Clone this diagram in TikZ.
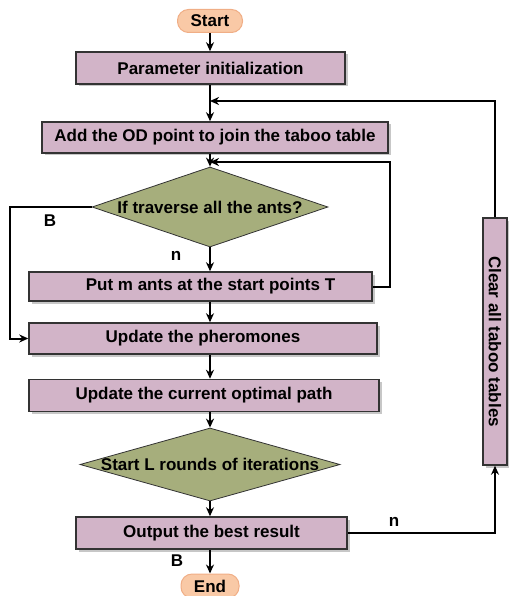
\documentclass[tikz,border=0pt]{standalone}
\usepackage{fontspec}
\setmainfont{Liberation Sans}
\usetikzlibrary{shapes.geometric,arrows.meta,shadows}
\definecolor{boxfill}{HTML}{D2B4C8}
\definecolor{dfill}{HTML}{A6AE7C}
\definecolor{tfill}{HTML}{F9C9A6}
\definecolor{tline}{HTML}{F0AE86}
\definecolor{edge}{HTML}{333333}
\tikzset{
  x=1pt,y=1pt,
  txt/.style={font=\fontsize{17}{19}\selectfont\bfseries, text=black},
  every node/.style={txt},
  procbox/.style={rectangle, draw=edge, line width=1.5pt, fill=boxfill, inner sep=0pt,
    drop shadow={shadow xshift=2.5pt, shadow yshift=-2.5pt, fill=black, opacity=0.22}},
  decbox/.style={diamond, draw=edge, line width=0.8pt, fill=dfill, inner sep=0pt},
  termbox/.style={rectangle, rounded corners=11pt, draw=tline, line width=1pt, fill=tfill, inner sep=0pt},
  conn/.style={draw=black, line width=2pt},
  arr/.style={conn, -{Stealth[length=9pt,width=8pt]}},
  lbl/.style={inner sep=0pt}
}
\begin{document}
\begin{tikzpicture}
\useasboundingbox (0,0) rectangle (508,-596);
\node[termbox, minimum width=65, minimum height=23] (start) at (210,-21) {Start};
\node[procbox, minimum width=269, minimum height=32] (param) at (210.5,-68) {Parameter initialization};
\node[procbox, minimum width=346, minimum height=31] (add) at (215,-137.5) {Add the OD point to join the taboo table};
\node[decbox, minimum width=236, minimum height=80, label={[txt]center:If traverse all the ants?}] (d1) at (210,-207) {};
\node[procbox, minimum width=343, minimum height=29, label={[txt,xshift=10pt]center:Put m ants at the start points T}] (put) at (200.5,-286.5) {};
\node[procbox, minimum width=348, minimum height=31] (upd) at (203,-338.5) {Update the pheromones};
\node[procbox, minimum width=350, minimum height=32] (opt) at (204,-395.5) {Update the current optimal path};
\node[decbox, minimum width=260, minimum height=73, label={[txt]center:Start L rounds of iterations}] (d2) at (210,-464.5) {};
\node[procbox, minimum width=271, minimum height=32] (out) at (211.5,-533) {Output the best result};
\node[termbox, minimum width=58, minimum height=24] (end) at (210,-586) {End};
\node[procbox, rotate=-90, minimum width=247, minimum height=24] (clear) at (495,-341.5) {Clear all taboo tables};

\coordinate (la) at (210,-101);
\coordinate (lb) at (210,-162);
\coordinate (lbx) at (390,-162);
\coordinate (lc) at (10,-207);
\coordinate (cx) at (210,0);

\draw[arr] (start.south) -- (start.south -| cx) -- (cx |- param.north);
\draw[arr] (cx |- param.south) -- (cx |- add.north);
\draw[arr] (cx |- add.south) -- (d1.north);
\draw[arr] (d1.south) -- (cx |- put.north);
\draw[arr] (cx |- put.south) -- (cx |- upd.north);
\draw[arr] (cx |- upd.south) -- (cx |- opt.north);
\draw[arr] (cx |- opt.south) -- (d2.north);
\draw[arr] (d2.south) -- (cx |- out.north);
\draw[arr] (cx |- out.south) -- (end.north);

\draw[arr] (put.east) -| (lbx) -- (lb);
\draw[arr] (d1.west) -- (lc) |- (upd.west);
\draw[arr] (out.east) -| (clear.east);
\draw[arr] (clear.west) |- (la);

\node[lbl] (b1) at (50,-221) {B};
\node[lbl] (n1) at (176,-256) {n};
\node[lbl] (n2) at (394,-522) {n};
\node[lbl] (b2) at (177,-561) {B};
\end{tikzpicture}
\end{document}
